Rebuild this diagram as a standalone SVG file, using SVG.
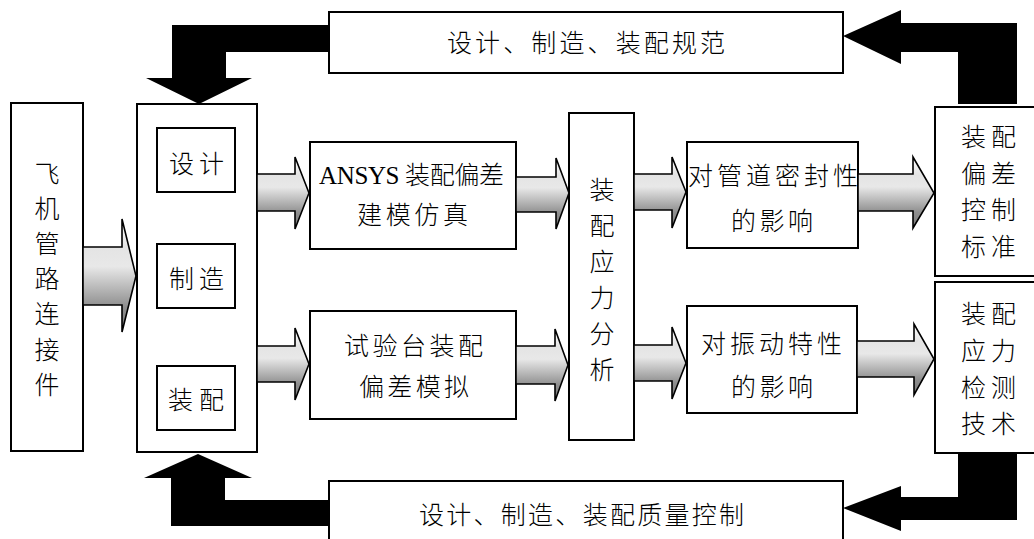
<svg xmlns="http://www.w3.org/2000/svg" width="1034" height="539" viewBox="0 0 1034 539">
<defs>
<linearGradient id="grad" x1="0" y1="0" x2="0" y2="1">
<stop offset="0" stop-color="#ffffff"/>
<stop offset="0.25" stop-color="#e4e4e4"/>
<stop offset="0.42" stop-color="#e8e8e8"/>
<stop offset="0.78" stop-color="#8e8e8e"/>
<stop offset="1" stop-color="#7a7a7a"/>
</linearGradient>
</defs>
<style>
.box{fill:#fff;stroke:#000;stroke-width:2}
.t{font-family:"Liberation Serif","Noto Sans CJK SC",serif;font-size:25px;font-weight:300;fill:#000}
.c{text-anchor:middle}
.ga{fill:url(#grad);stroke:#000;stroke-width:1.6;stroke-linejoin:miter}
.ba{fill:#000;stroke:none}
</style>
<rect width="1034" height="539" fill="#fff"/>

<g id="banner-top">
<rect class="box" x="329" y="12" width="514" height="61"/>
<text class="t" x="447" y="52" textLength="278" lengthAdjust="spacing">设计、制造、装配规范</text>
</g>
<g id="banner-bottom">
<rect class="box" x="329" y="481" width="514" height="70"/>
<text class="t" x="419" y="524" textLength="325" lengthAdjust="spacing">设计、制造、装配质量控制</text>
</g>
<g id="node-connector">
<rect class="box" x="11" y="103" width="72" height="348"/>
<text class="t c" x="47" y="183">飞</text>
<text class="t c" x="47" y="218">机</text>
<text class="t c" x="47" y="253">管</text>
<text class="t c" x="47" y="288">路</text>
<text class="t c" x="47" y="323">连</text>
<text class="t c" x="47" y="359">接</text>
<text class="t c" x="47" y="394">件</text>
</g>
<g id="node-process">
<rect class="box" x="137" y="104" width="120" height="348"/>
</g>
<g id="node-design">
<rect class="box" x="157" y="128" width="78" height="64"/>
<text class="t" x="169" y="173" textLength="55" lengthAdjust="spacing">设计</text>
</g>
<g id="node-manufacture">
<rect class="box" x="157" y="244" width="78" height="64"/>
<text class="t" x="169" y="288" textLength="55" lengthAdjust="spacing">制造</text>
</g>
<g id="node-assembly">
<rect class="box" x="157" y="366" width="78" height="64"/>
<text class="t" x="168" y="409" textLength="56" lengthAdjust="spacing">装配</text>
</g>
<g id="node-ansys">
<rect class="box" x="310" y="142" width="206" height="107"/>
<text class="t" x="319" y="184" textLength="185" lengthAdjust="spacing">ANSYS 装配偏差</text>
<text class="t" x="357" y="224" textLength="111" lengthAdjust="spacing">建模仿真</text>
</g>
<g id="node-test">
<rect class="box" x="310" y="311" width="206" height="108"/>
<text class="t" x="344" y="355" textLength="139" lengthAdjust="spacing">试验台装配</text>
<text class="t" x="359" y="396" textLength="110" lengthAdjust="spacing">偏差模拟</text>
</g>
<g id="node-stress">
<rect class="box" x="569" y="113" width="65" height="327"/>
<text class="t c" x="602" y="199">装</text>
<text class="t c" x="602" y="235">配</text>
<text class="t c" x="602" y="271">应</text>
<text class="t c" x="602" y="307">力</text>
<text class="t c" x="602" y="343">分</text>
<text class="t c" x="602" y="379">析</text>
</g>
<g id="node-seal">
<rect class="box" x="687" y="142" width="171" height="106"/>
<text class="t" x="688" y="185" textLength="170" lengthAdjust="spacing">对管道密封性</text>
<text class="t" x="731" y="230" textLength="82" lengthAdjust="spacing">的影响</text>
</g>
<g id="node-vibration">
<rect class="box" x="687" y="306" width="170" height="107"/>
<text class="t" x="701" y="353" textLength="141" lengthAdjust="spacing">对振动特性</text>
<text class="t" x="731" y="396" textLength="82" lengthAdjust="spacing">的影响</text>
</g>
<g id="node-standard">
<rect class="box" x="935" y="107" width="110" height="169"/>
<text class="t" x="961" y="146" textLength="55" lengthAdjust="spacing">装配</text>
<text class="t" x="961" y="183" textLength="55" lengthAdjust="spacing">偏差</text>
<text class="t" x="961" y="219" textLength="55" lengthAdjust="spacing">控制</text>
<text class="t" x="961" y="256" textLength="55" lengthAdjust="spacing">标准</text>
</g>
<g id="node-detection">
<rect class="box" x="935" y="282" width="110" height="171"/>
<text class="t" x="961" y="323" textLength="55" lengthAdjust="spacing">装配</text>
<text class="t" x="961" y="360" textLength="55" lengthAdjust="spacing">应力</text>
<text class="t" x="961" y="397" textLength="55" lengthAdjust="spacing">检测</text>
<text class="t" x="961" y="433" textLength="55" lengthAdjust="spacing">技术</text>
</g>

<g id="connectors">
<polygon class="ga" points="83,247 122,247 122,219 136,276 122,332 122,305 83,305"/>
<polygon class="ga" points="257,174 295,174 295,157 309,193 295,229 295,211 257,211"/>
<polygon class="ga" points="257,346 295,346 295,328 309,364 295,400 295,382 257,382"/>
<polygon class="ga" points="516,177 556,177 556,158 569,193 556,229 556,212 516,212"/>
<polygon class="ga" points="516,346 555,346 555,329 568,365 555,401 555,384 516,384"/>
<polygon class="ga" points="634,174 672,174 672,157 686,192 672,228 672,210 634,210"/>
<polygon class="ga" points="634,345 672,345 672,327 686,363 672,399 672,381 634,381"/>
<polygon class="ga" points="858,174 913,174 913,157 934,193 913,228 913,211 858,211"/>
<polygon class="ga" points="857,341 914,341 914,324 934,359 914,395 914,377 857,377"/>
<polygon class="ba" points="329,25 172,25 172,78 146,78 199,104 252,78 226,78 226,52 329,52"/>
<polygon class="ba" points="843,36 901,10 901,23 1017,23 1017,104 958,104 958,52 901,52 901,64"/>
<polygon class="ba" points="958,453 1017,453 1017,520 901,520 901,531 843,508 901,486 901,497 958,497"/>
<polygon class="ba" points="198,454 252,478 225,478 225,500 329,500 329,526 171,526 171,478 144,478"/>
</g>
</svg>
